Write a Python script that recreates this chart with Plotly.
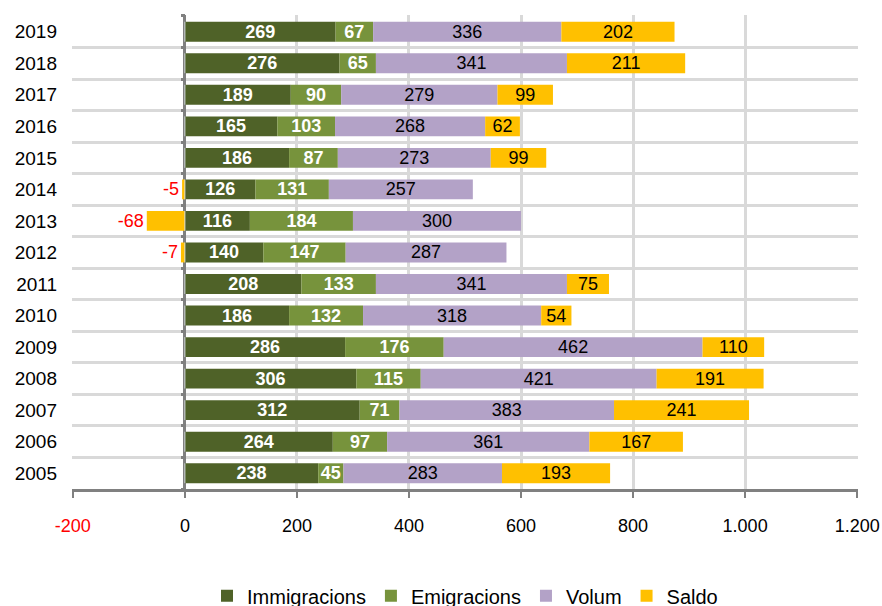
import plotly.graph_objects as go

years = ["2005", "2006", "2007", "2008", "2009", "2010", "2011", "2012",
         "2013", "2014", "2015", "2016", "2017", "2018", "2019"]
immigracions = [238, 264, 312, 306, 286, 186, 208, 140, 116, 126, 186, 165, 189, 276, 269]
emigracions = [45, 97, 71, 115, 176, 132, 133, 147, 184, 131, 87, 103, 90, 65, 67]
volum = [283, 361, 383, 421, 462, 318, 341, 287, 300, 257, 273, 268, 279, 341, 336]
saldo = [193, 167, 241, 191, 110, 54, 75, -7, -68, -5, 99, 62, 99, 211, 202]

x_ticks = [-200, 0, 200, 400, 600, 800, 1000, 1200]
x_tick_labels = ["<span style='color:#ff0000'>-200</span>", "0", "200", "400",
                 "600", "800", "1.000", "1.200"]
X_RANGE = [-201.5, 1201.5]

FONT = "Liberation Sans, Arial, sans-serif"

fig = go.Figure()

def add(name, vals, color, tcolor, bold, positions=None):
    txt = [f"<b>{v}</b>" if bold else str(v) for v in vals]
    fig.add_trace(go.Bar(
        name=name, y=years, x=vals, orientation="h",
        marker=dict(color=color, line=dict(width=0)),
        text=txt, textposition=positions if positions else "inside",
        insidetextanchor="middle", constraintext="none", textangle=0,
        textfont=dict(color=tcolor, size=18, family=FONT),
        cliponaxis=False,
    ))

add("Immigracions", immigracions, "#4f6228", "white", True)
add("Emigracions", emigracions, "#77933c", "white", True)
add("Volum", volum, "#b3a2c7", "black", False)
add("Saldo", saldo, "#ffc000",
    ["#ff0000" if v < 0 else "black" for v in saldo], False,
    ["outside" if v < 0 else "inside" for v in saldo])

# invisible helper trace so the secondary category axis (tick nubs on the zero line) renders
fig.add_trace(go.Bar(y=years, x=[0] * len(years), orientation="h", yaxis="y2",
                     marker=dict(color="rgba(0,0,0,0)"), showlegend=False,
                     hoverinfo="skip"))

zero_pos = (0 - X_RANGE[0]) / (X_RANGE[1] - X_RANGE[0])

fig.update_layout(
    barmode="relative",
    bargap=0.37,
    width=882, height=606,
    margin=dict(l=72, r=24, t=15, b=117),
    paper_bgcolor="white", plot_bgcolor="white",
    font=dict(family=FONT, size=19, color="black"),
    showlegend=True,
    legend=dict(orientation="h", x=0.5, xanchor="center",
                yref="container", y=0.017, yanchor="middle",
                font=dict(size=20, family=FONT), traceorder="normal",
                itemwidth=30),
    xaxis=dict(range=X_RANGE, tickvals=x_ticks, ticktext=x_tick_labels,
               showgrid=True, gridcolor="#d9d9d9", gridwidth=3,
               zeroline=True, zerolinecolor="#808080", zerolinewidth=3,
               showline=True, linecolor="#808080", linewidth=3,
               ticks="outside", ticklen=6, tickwidth=2, tickcolor="#808080",
               ticklabelstandoff=12, ticklabeloverflow="allow", automargin=False,
               tickfont=dict(size=18, family=FONT), mirror=False),
    yaxis=dict(type="category", tickson="boundaries", showgrid=True,
               range=[-0.5, 14.53], automargin=False,
               gridcolor="#d9d9d9", gridwidth=3, showline=False,
               ticks="", ticklabelstandoff=14, tickfont=dict(size=19, family=FONT)),
    yaxis2=dict(type="category", overlaying="y", anchor="free", position=zero_pos,
                side="left", range=[-0.5, 14.53], tickson="boundaries",
                ticks="outside", ticklen=4, tickwidth=3, tickcolor="#808080",
                showticklabels=False, showgrid=False, showline=False,
                zeroline=False, automargin=False),
)

fig.write_html("out.html")
